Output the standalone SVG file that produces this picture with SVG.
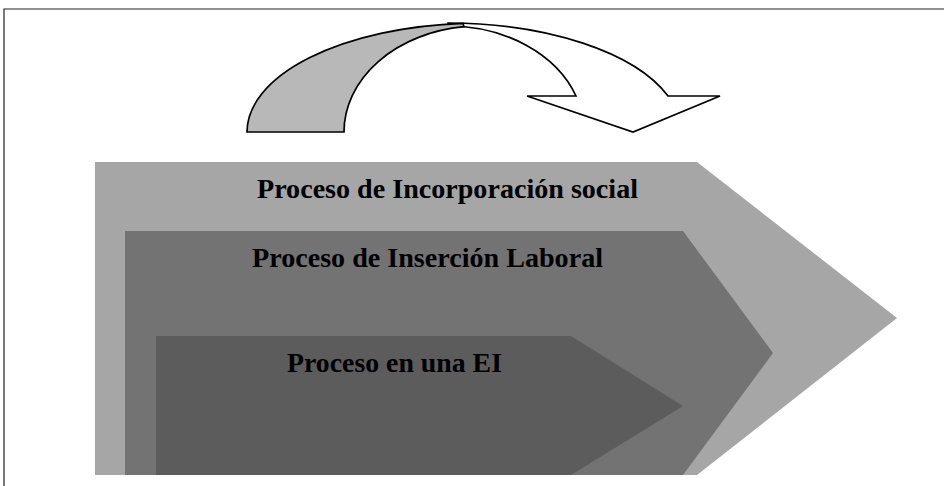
<svg xmlns="http://www.w3.org/2000/svg" width="944" height="486" viewBox="0 0 944 486">
<style>
.lbl{font-family:"Liberation Serif","Times New Roman",serif;font-weight:bold;font-size:27.5px;fill:#000}
.arr{stroke:#000;stroke-width:1.7;stroke-linejoin:miter}
</style>
<rect x="0" y="0" width="944" height="486" fill="#fff"/>
<path d="M4,486 L4,9 L944,9" fill="none" stroke="#222" stroke-width="1.2"/>
<g id="incorporacion-social">
<polygon points="95,162 697,162 897,318 697,475 95,475" fill="#a6a6a6"/>
<text class="lbl" x="257" y="198" textLength="381" lengthAdjust="spacingAndGlyphs">Proceso de Incorporación social</text>
</g>
<g id="insercion-laboral">
<polygon points="125,231 683,231 773,353 683,475 125,475" fill="#737373"/>
<text class="lbl" x="252" y="267" textLength="351" lengthAdjust="spacingAndGlyphs">Proceso de Inserción Laboral</text>
</g>
<g id="proceso-ei">
<polygon points="156,336 571,336 683,406 571,475 156,475" fill="#5c5c5c"/>
<text class="lbl" x="287" y="372" textLength="215" lengthAdjust="spacingAndGlyphs">Proceso en una EI</text>
</g>
<g id="curved-arrow">
<path class="arr" d="M448,23 A233,109 0 0 1 668,96 L720,96 L633,132 L527,96 L576,96 A136,106 0 0 0 448,26 Z" fill="#fff"/>
<path class="arr" d="M247,132 A233,109 0 0 1 463,23.3 L464,26.7 A136,106 0 0 0 344,132 Z" fill="#b8b8b8"/>
</g>
</svg>
